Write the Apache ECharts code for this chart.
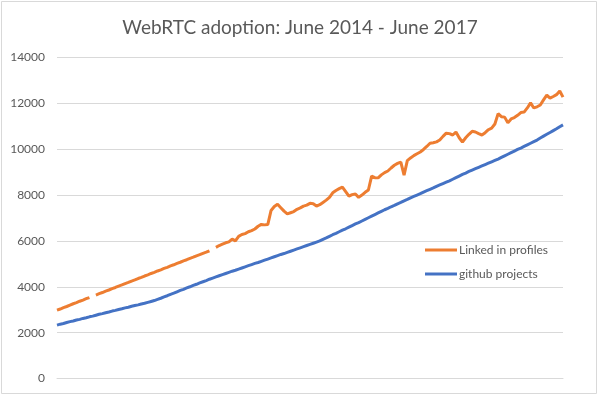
<!DOCTYPE html>
<html>
<head>
<meta charset="utf-8">
<script src="https://cdn.jsdelivr.net/npm/echarts@6/dist/echarts.min.js"></script>
<style>html,body{margin:0;padding:0;background:#fff;}#c{width:600px;height:396px;}</style>
</head>
<body>
<div id="c"></div>
<script>
const titleText = 'WebRTC adoption: June 2014 - June 2017';
const seriesNames = ['Linked in profiles', 'github projects'];
const yTicks = [0, 2000, 4000, 6000, 8000, 10000, 12000, 14000];

// Weekly readings (157 weeks), null = missing week
const linkedin = [
  2980, 3030, 3090, 3140, 3200, 3260, 3310, 3370, 3420, 3480,
  3530, null, 3640, 3700, 3750, 3810, 3860, 3920, 3970, 4030,
  4080, 4140, 4190, 4250, 4300, 4360, 4410, 4470, 4520, 4580,
  4630, 4690, 4740, 4800, 4850, 4910, 4960, 5020, 5070, 5130,
  5180, 5240, 5290, 5350, 5400, 5460, 5510, 5570, null, 5720,
  5800, 5860, 5920, 5960, 6080, 6000, 6200, 6280, 6320, 6400,
  6450, 6520, 6640, 6720, 6700, 6720, 7330, 7500, 7600, 7450,
  7300, 7180, 7230, 7280, 7380, 7440, 7520, 7560, 7640, 7620,
  7520, 7580, 7680, 7780, 7900, 8100, 8200, 8280, 8350, 8150,
  7950, 8020, 8050, 7900, 8000, 8120, 8220, 8830, 8760, 8750,
  8880, 8980, 9050, 9180, 9300, 9380, 9440, 8870, 9500, 9620,
  9720, 9800, 9880, 9990, 10120, 10260, 10280, 10320, 10400, 10560,
  10700, 10680, 10620, 10750, 10500, 10310, 10500, 10650, 10780, 10750,
  10680, 10620, 10720, 10850, 10920, 11100, 11550, 11420, 11400, 11150,
  11320, 11380, 11480, 11600, 11620, 11800, 12020, 11800, 11850, 11930,
  12150, 12360, 12230, 12300, 12380, 12540, 12270
];
const github = [
  2330, 2370, 2400, 2440, 2480, 2510, 2550, 2580, 2620, 2650,
  2690, 2720, 2760, 2800, 2830, 2870, 2900, 2940, 2970, 3010,
  3040, 3080, 3110, 3150, 3180, 3210, 3250, 3280, 3320, 3360,
  3400, 3450, 3500, 3560, 3610, 3670, 3720, 3780, 3840, 3890,
  3950, 4000, 4060, 4110, 4170, 4220, 4270, 4330, 4380, 4430,
  4480, 4530, 4580, 4630, 4680, 4720, 4770, 4820, 4870, 4920,
  4970, 5020, 5060, 5110, 5160, 5210, 5260, 5310, 5360, 5410,
  5450, 5500, 5550, 5600, 5650, 5700, 5750, 5800, 5850, 5900,
  5950, 6000, 6070, 6130, 6200, 6270, 6330, 6400, 6470, 6530,
  6600, 6670, 6740, 6800, 6870, 6940, 7010, 7080, 7150, 7220,
  7290, 7360, 7420, 7490, 7550, 7620, 7680, 7750, 7810, 7880,
  7940, 8000, 8060, 8130, 8190, 8250, 8310, 8380, 8440, 8500,
  8560, 8620, 8690, 8760, 8830, 8900, 8960, 9030, 9090, 9150,
  9210, 9270, 9330, 9390, 9450, 9510, 9570, 9640, 9710, 9780,
  9850, 9920, 9990, 10050, 10120, 10190, 10260, 10330, 10400, 10490,
  10570, 10650, 10730, 10810, 10890, 10980, 11060
];

const weeks = [];
const start = new Date(Date.UTC(2014, 5, 1));
for (let i = 0; i < linkedin.length; i++) {
  const d = new Date(start.getTime() + i * 7 * 86400000);
  weeks.push(d.toISOString().slice(0, 10));
}

const chart = echarts.init(document.getElementById('c'), null, {renderer: 'canvas'});
chart.setOption({
  animation: false,
  backgroundColor: '#fff',
  textStyle: {fontFamily: 'Lato'},
  title: {
    text: titleText,
    left: 'center',
    top: 13,
    textStyle: {fontFamily: 'Lato', fontSize: 19, fontWeight: 'normal', color: '#595959'}
  },
  graphic: [{
    type: 'rect',
    shape: {x: 1.5, y: 1.5, width: 595, height: 392},
    style: {fill: 'none', stroke: '#d9d9d9', lineWidth: 1},
    silent: true, z: -1
  }],
  legend: {
    orient: 'vertical',
    left: 425,
    top: 244,
    padding: 0,
    itemGap: 12,
    itemWidth: 32,
    itemHeight: 3,
    icon: 'rect',
    textStyle: {fontFamily: 'Lato', fontSize: 12, color: '#595959', padding: [0, 0, 0, -3]},
    data: seriesNames
  },
  grid: {left: 57, right: 37, top: 57.5, bottom: 17.5, containLabel: false},
  xAxis: {
    type: 'category',
    data: weeks,
    boundaryGap: false,
    axisLine: {lineStyle: {color: '#d9d9d9', width: 1}},
    axisTick: {show: false},
    axisLabel: {show: false},
    splitLine: {show: false}
  },
  yAxis: {
    type: 'value',
    min: yTicks[0],
    max: yTicks[yTicks.length - 1],
    interval: yTicks[1] - yTicks[0],
    axisLine: {show: false},
    axisTick: {show: false},
    axisLabel: {fontFamily: 'Lato', fontSize: 12, color: '#595959', margin: 12,
      formatter: function (v) { return String(v); }},
    splitLine: {lineStyle: {color: '#d9d9d9', width: 1}}
  },
  series: [
    {
      name: seriesNames[0], type: 'line', data: linkedin,
      showSymbol: false, symbol: 'none', connectNulls: false,
      lineStyle: {color: '#ED7D31', width: 3}, itemStyle: {color: '#ED7D31'}
    },
    {
      name: seriesNames[1], type: 'line', data: github,
      showSymbol: false, symbol: 'none',
      lineStyle: {color: '#4472C4', width: 3}, itemStyle: {color: '#4472C4'}
    }
  ]
});
</script>
</body>
</html>
